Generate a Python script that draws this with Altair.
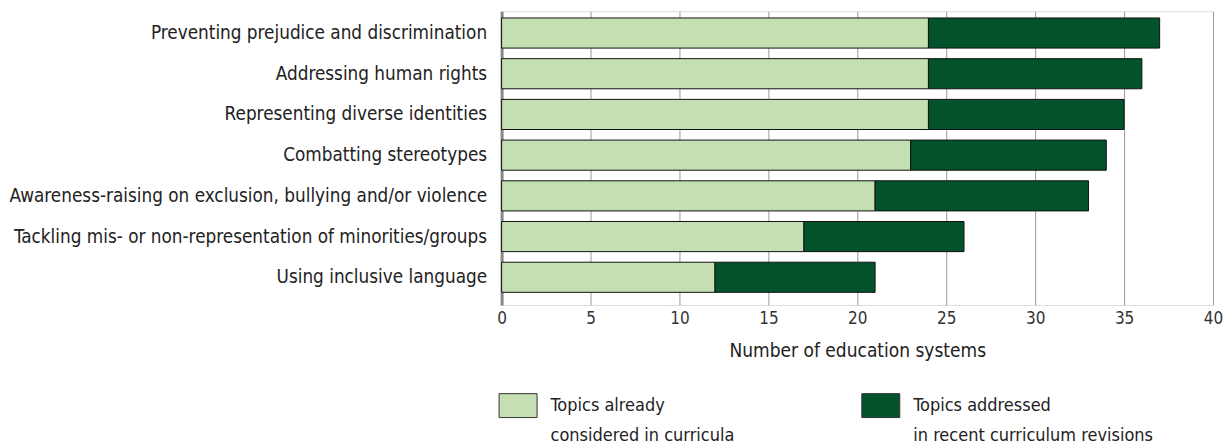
import altair as alt
import pandas as pd

categories = [
    "Preventing prejudice and discrimination",
    "Addressing human rights",
    "Representing diverse identities",
    "Combatting stereotypes",
    "Awareness-raising on exclusion, bullying and/or violence",
    "Tackling mis- or non-representation of minorities/groups",
    "Using inclusive language",
]
already = [24, 24, 24, 23, 21, 17, 12]
recent = [13, 12, 11, 11, 12, 9, 9]
series = ["Topics already|considered in curricula",
          "Topics addressed|in recent curriculum revisions"]
colors = ["#c4dfb1", "#02532b"]
x_ticks = [0, 5, 10, 15, 20, 25, 30, 35, 40]

rows = []
for c, a, r in zip(categories, already, recent):
    rows.append({"category": c, "series": series[0], "value": a, "order": 0})
    rows.append({"category": c, "series": series[1], "value": r, "order": 1})
df = pd.DataFrame(rows)

FONT = "DejaVu Sans Condensed, sans-serif"

chart = alt.Chart(df).mark_bar(stroke="#111111", strokeWidth=1).encode(
    y=alt.Y("category:N", sort=categories,
            scale=alt.Scale(paddingInner=0.26, paddingOuter=0.238, align=0.35),
            axis=alt.Axis(title=None, ticks=False, grid=False, domain=True,
                          domainColor="#888888", domainWidth=3,
                          labelFont=FONT, labelFontSize=18.8, labelColor="#222222",
                          labelPadding=15, labelLimit=600)),
    x=alt.X("sum(value):Q",
            scale=alt.Scale(domain=[0, 40], nice=False),
            axis=alt.Axis(title="Number of education systems", values=x_ticks,
                          grid=True, gridColor="#9a9a9a", gridWidth=1,
                          domain=False, ticks=False, labelFlush=False,
                          labelFont=FONT, labelFontSize=17, labelColor="#333333",
                          labelPadding=6,
                          titleFont=FONT, titleFontSize=19, titleFontWeight="normal",
                          titleColor="#222222", titlePadding=15)),
    color=alt.Color("series:N", sort=series,
                    scale=alt.Scale(domain=series, range=colors),
                    legend=alt.Legend(title=None, orient="none", direction="horizontal",
                                      legendX=-3, legendY=375,
                                      symbolType="M-1,-0.63L1,-0.63L1,0.63L-1,0.63Z",
                                      symbolSize=1444, symbolStrokeColor="#333333",
                                      symbolStrokeWidth=1, symbolOpacity=1,
                                      labelExpr="split(datum.label, '|')",
                                      labelFont=FONT, labelFontSize=18,
                                      labelColor="#222222", labelOffset=13,
                                      labelBaseline="middle", labelLimit=400,
                                      columnPadding=124)),
    order=alt.Order("order:Q"),
).properties(width=712, height=294, padding={"left": 0, "top": 3, "right": 0, "bottom": 0}
).configure_view(stroke=None
).configure(style={"guide-label": {"lineHeight": 30}})

chart.save("out.html", embed_options={"renderer": "svg", "actions": False})
